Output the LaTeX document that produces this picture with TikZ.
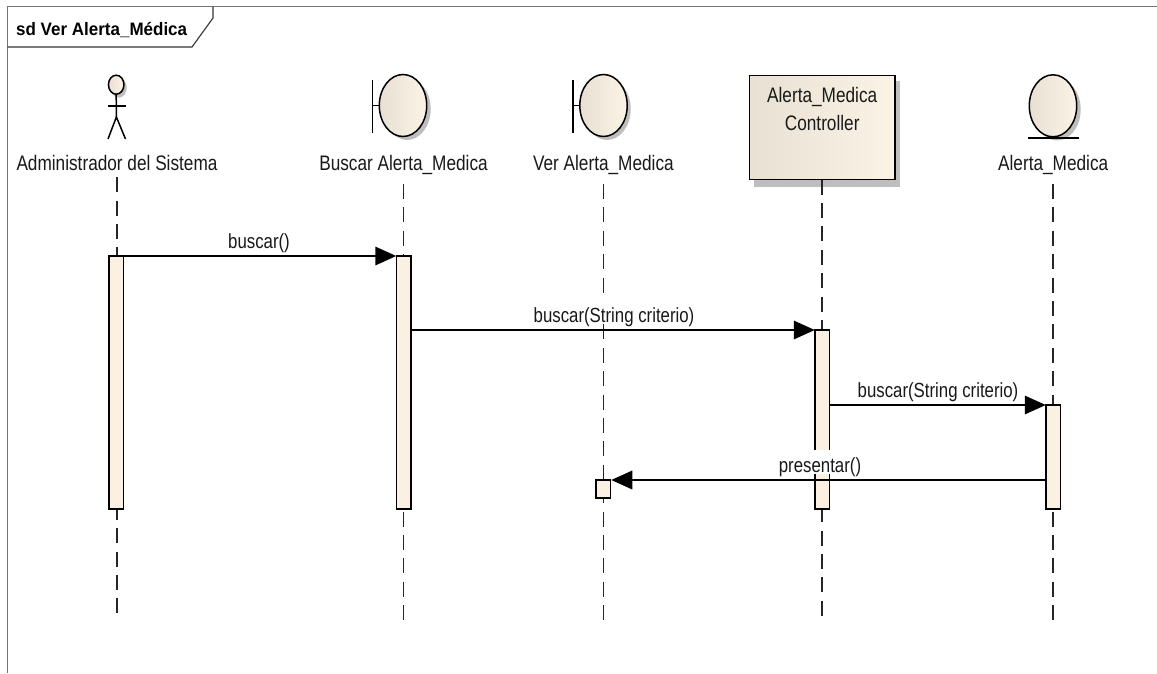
\documentclass[tikz,border=0pt]{standalone}
\usepackage{fontspec}
\setmainfont{Liberation Sans}
\newfontfamily\lblfont[FakeStretch=0.82]{Liberation Sans}
\newfontfamily\ttlfont[FakeStretch=0.944]{Liberation Sans Bold}
\usetikzlibrary{arrows.meta,calc,shapes.geometric}
\definecolor{actfill}{RGB}{251,241,227}
\definecolor{gradl}{RGB}{232,224,211}
\definecolor{gradr}{RGB}{252,243,231}
\definecolor{shad}{RGB}{190,190,190}
\tikzset{
  x=1pt,y=-1pt,
  lbl/.style={font=\lblfont\fontsize{21}{28}\selectfont,inner sep=0pt,text=black!90},
  headlbl/.style={lbl,anchor=base,text height=15pt},
  msglbl/.style={lbl,font=\lblfont\fontsize{20.5}{24}\selectfont,anchor=base,fill=white,inner xsep=1pt,text height=22pt,text depth=2pt},
  life/.style={line width=1.6pt,dash pattern=on 15pt off 8.4pt,black!85},
  act/.style={draw,line width=1.5pt,fill=actfill,rectangle,inner sep=0pt,outer sep=0pt},
  msg/.style={line width=1.8pt,-{Triangle[length=21pt,width=18.5pt]}},
  fr/.style={line width=1.3pt,black!55},
  shp/.style={draw,line width=1.5pt,left color=gradl,right color=gradr,inner sep=0pt,outer sep=0pt},
  ln/.style={line width=1.5pt},
}
\begin{document}
\begin{tikzpicture}
\useasboundingbox (0,0) rectangle (1157,673);
\fill[white] (0,0) rectangle (1157,673);
% frame
\draw[fr] (1157,6.5) -- (7.5,6.5) -- (7.5,673);
\draw[line width=1.1pt,black!80] (7.5,47) -- (192,47) -- (213,18) -- (213,6.5);
\node[font=\ttlfont\fontsize{18}{20}\selectfont,anchor=base west,inner sep=0pt] (title) at (16,35) {sd Ver Alerta\_Médica};

% coordinates of lifeline ends
\coordinate (endA) at (117,612.7);
\coordinate (endB) at (403.5,620);
\coordinate (endC) at (603.4,620);
\coordinate (endD) at (822,620);
\coordinate (endE) at (1053.2,620);

% labels
\node[headlbl,text depth=6.3pt] (labA) at (117,170.7) {Administrador del Sistema};
\node[headlbl,text depth=13pt] (labB) at (403.5,170.7) {Buscar Alerta\_Medica};
\node[headlbl,text depth=13pt] (labC) at (603.4,170.7) {Ver Alerta\_Medica};
\node[headlbl,text depth=13pt] (labE) at (1053.2,170.7) {Alerta\_Medica};

% controller
\fill[shad] (754,81) rectangle (900,187);
\node[shp,rectangle,minimum width=145.5pt,minimum height=104pt] (boxD) at (822.2,127.5) {};
\node[lbl,align=center] (txtD) at (822.2,109) {Alerta\_Medica\\Controller};

% lifelines
\draw[life] (labA.south) -- (endA);
\draw[life] (labB.south) -- (endB);
\draw[life] (labC.south) -- (endC);
\draw[life] (boxD.south -| endD) -- (endD);
\draw[life] (labE.south) -- (endE);

% actor
\fill[shad] (118.7,87.7) ellipse (8 and 10);
\node[shp,ellipse,minimum width=15.5pt,minimum height=19pt] (head) at (116.2,84.7) {};
\coordinate (hip) at (116.4,117);
\coordinate (armL) at (108,106);
\coordinate (armR) at (126,106);
\coordinate (legL) at (108,139);
\coordinate (legR) at (125.5,139);
\draw[ln] (head.south) -- (hip);
\draw[ln] (armL) -- (armR);
\draw[ln] (legL) -- (hip) -- (legR);

% boundary B
\fill[shad] (407,109) ellipse (23.7 and 31);
\node[shp,ellipse,minimum width=47.4pt,minimum height=62pt] (circB) at (403,105.5) {};
\coordinate (barBt) at (372.7,80);
\coordinate (barBb) at (372.7,133);
\draw[ln] (barBt) -- (barBb);
\draw[ln] (circB.west) -- (circB.west -| barBt);

% boundary C
\fill[shad] (607,109) ellipse (23.7 and 31);
\node[shp,ellipse,minimum width=47.4pt,minimum height=62pt] (circC) at (603.5,105.5) {};
\coordinate (barCt) at (573,80);
\coordinate (barCb) at (573,133);
\draw[ln] (barCt) -- (barCb);
\draw[ln] (circC.west) -- (circC.west -| barCt);

% entity
\fill[shad] (1057,109.5) ellipse (23.7 and 31);
\node[shp,ellipse,minimum width=47.4pt,minimum height=62pt] (circE) at (1053,105.8) {};
\coordinate (barEl) at (1028,138);
\coordinate (barEr) at (1079,138);
\draw[ln] (barEl) -- (barEr);

% message labels (white backing as in the reference)
\node[msglbl] (m1) at (259,248) {buscar()};
\node[msglbl] (m2) at (614,322) {buscar(String criterio)};
\node[act,minimum width=14.5pt,minimum height=253pt] (actA) at (116.2,382.5) {};
\node[act,minimum width=14.5pt,minimum height=253pt] (actB) at (403.5,382.5) {};
\node[act,minimum width=14.5pt,minimum height=179pt] (actD) at (822,419.5) {};
\node[act,minimum width=14.5pt,minimum height=104pt] (actE) at (1053,457) {};
\node[act,minimum width=14.5pt,minimum height=18pt] (actC) at (603,489) {};
\node[msglbl] (m3) at (938,397) {buscar(String criterio)};
\node[msglbl] (m4) at (820,472) {presentar()};

% messages
\draw[msg] (actA.north east) -- (actB.north west);
\draw[msg] (actB.east |- actD.north) -- (actD.north west);
\draw[msg] (actD.east |- actE.north) -- (actE.north west);
\draw[msg] (actE.west |- actC.north) -- ($(actC.north east)+(1,0)$);
\end{tikzpicture}
\end{document}
